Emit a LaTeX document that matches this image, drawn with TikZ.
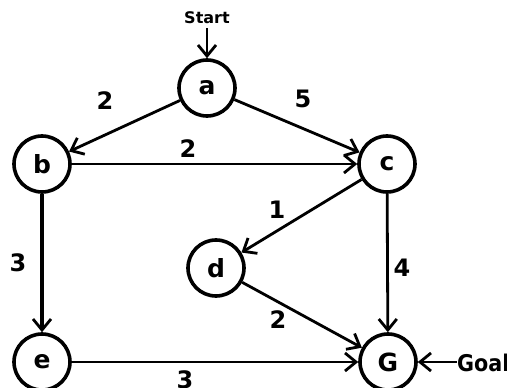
\documentclass[tikz,border=0pt]{standalone}
\usepackage{fontspec}
\setmainfont{DejaVu Sans}
\newfontfamily\condfont{DejaVu Sans Condensed}
\usetikzlibrary{arrows.meta}
\begin{document}
\begin{tikzpicture}[x=1pt,y=-1pt,
  vertex/.style={circle,draw,line width=3.6pt,minimum size=56pt,inner sep=0pt,font=\fontsize{25}{27}\selectfont\bfseries},
  edge/.style={line width=2.8pt,-{Straight Barb[length=11pt,width=18pt,line width=2.8pt]}},
  wlabel/.style={font=\fontsize{24}{26}\selectfont\bfseries,inner sep=0pt}]
\useasboundingbox[fill=white] (0,0) rectangle (507,388);
\node[vertex] (a) at (207,88) {a};
\node[vertex] (b) at (42,164) {b};
\node[vertex] (c) at (387,164) {c};
\node[vertex] (d) at (216,268) {d};
\node[vertex] (e) at (42,362) {e};
\node[vertex] (G) at (388,362) {G};
\node[font=\fontsize{16}{18}\selectfont\bfseries,inner sep=0pt] (start) at (207,18) {Start};
\node[font=\condfont\fontsize{23}{25}\selectfont\bfseries,inner sep=0pt,anchor=west] (goal) at (457,363) {Goal};
\coordinate (st) at (207,28);
\coordinate (gl) at (457,362);
\draw[edge] (st) -- (a);
\draw[edge] (gl) -- (G);
\draw[edge] (a) -- (b);
\draw[edge] (a) -- (c);
\draw[edge] (b) -- (c);
\draw[edge,line width=4.5pt] (b) -- (e);
\draw[edge] (c) -- (d);
\draw[edge] (c) -- (G);
\draw[edge] (d) -- (G);
\draw[edge] (e) -- (G);
\node[wlabel] (l1) at (105,101) {2};
\node[wlabel] (l2) at (303,99) {5};
\node[wlabel] (l3) at (188,149) {2};
\node[wlabel] (l4) at (18,263) {3};
\node[wlabel] (l5) at (277,210) {1};
\node[wlabel] (l6) at (402,268) {4};
\node[wlabel] (l7) at (278,320) {2};
\node[wlabel] (l8) at (185,380) {3};
\end{tikzpicture}
\end{document}
